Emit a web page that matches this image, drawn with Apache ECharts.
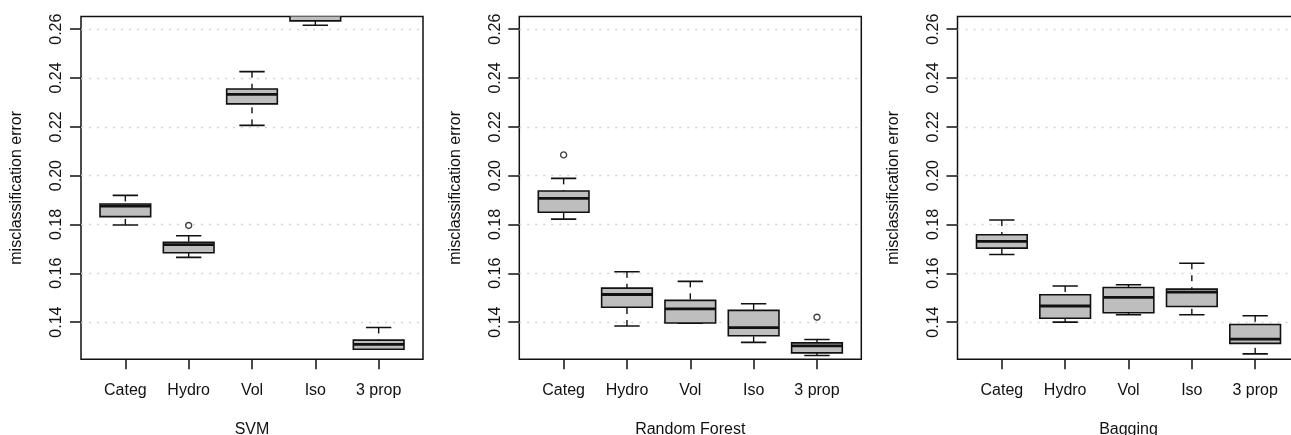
<!DOCTYPE html>
<html><head><meta charset="utf-8">
<script src="https://cdn.jsdelivr.net/npm/echarts@6.0.0/dist/echarts.min.js"></script>
<style>html,body{margin:0;padding:0;background:#fff}#c{width:1291px;height:435px}</style>
</head><body><div id="c"></div>
<script>
// ---- data ----
const categories = ['Categ', 'Hydro', 'Vol', 'Iso', '3 prop'];
const panelTitles = ['SVM', 'Random Forest', 'Bagging'];
const yTicks = [0.14, 0.16, 0.18, 0.20, 0.22, 0.24, 0.26];
const yLimits = [0.13, 0.26];
// [lower whisker, Q1, median, Q3, upper whisker]
const svmStats = [
  [0.1798, 0.1832, 0.1875, 0.1884, 0.1919],
  [0.1665, 0.1684, 0.1717, 0.1727, 0.1754],
  [0.2206, 0.2294, 0.2333, 0.2355, 0.2426],
  [0.2616, 0.2634, 0.2660, 0.2680, 0.2710],
  [0.1289, 0.1289, 0.1309, 0.1326, 0.1378]
];
const rfStats = [
  [0.1822, 0.1850, 0.1907, 0.1937, 0.1989],
  [0.1384, 0.1461, 0.1513, 0.1539, 0.1606],
  [0.1395, 0.1396, 0.1454, 0.1489, 0.1567],
  [0.1317, 0.1344, 0.1377, 0.1448, 0.1475],
  [0.1263, 0.1274, 0.1303, 0.1315, 0.1329]
];
const bagStats = [
  [0.1677, 0.1703, 0.1731, 0.1758, 0.1818],
  [0.1400, 0.1416, 0.1466, 0.1512, 0.1548],
  [0.1430, 0.1438, 0.1501, 0.1542, 0.1553],
  [0.1430, 0.1464, 0.1523, 0.1535, 0.1641],
  [0.1270, 0.1313, 0.1330, 0.1390, 0.1426]
];
// [category index, value]
const svmOutliers = [[1, 0.1796]];
const rfOutliers = [[0, 0.2085], [4, 0.1420]];
const bagOutliers = [];

// ---- layout ----
const FONT = '"Liberation Sans", Arial, Helvetica, sans-serif';
const FS = 16;
const frameLefts = [81, 519.3, 957.5];
const FRAME_W = 342, TOP = 16.5, H = 342.7;
const STEP = FRAME_W / 5.4;          // R boxplot xlim 0.5..n+0.5 extended 4%
const ext = (yLimits[1] - yLimits[0]) * 0.04;
const Y_MIN = +(yLimits[0] - ext).toFixed(5), Y_MAX = +(yLimits[1] + ext).toFixed(5);
const X_MIN = 0.5 - 0.04 * categories.length, X_MAX = categories.length + 0.5 + 0.04 * categories.length;

const allStats = [svmStats, rfStats, bagStats];
const allOut = [svmOutliers, rfOutliers, bagOutliers];

const grids = [], xAxes = [], yAxes = [], series = [];
for (let p = 0; p < 3; p++) {
  const fl = frameLefts[p];
  // frame grid (holds the data, R-style x range)
  grids.push({left: fl, top: TOP, width: FRAME_W, height: H, show: true,
    borderColor: '#111', borderWidth: 1.5, backgroundColor: 'transparent',
    containLabel: false, outerBoundsMode: 'none'});
  // label grid (category ticks / labels)
  grids.push({left: fl + 0.2 * STEP, top: TOP, width: 5 * STEP, height: H, show: false,
    containLabel: false, outerBoundsMode: 'none'});
  xAxes.push({gridIndex: 2 * p, type: 'value', min: X_MIN, max: X_MAX, show: false});
  xAxes.push({gridIndex: 2 * p + 1, type: 'category', data: categories,
    axisLine: {show: false, onZero: false},
    axisTick: {show: true, alignWithLabel: true, length: 10, lineStyle: {color: '#111', width: 1.5}},
    axisLabel: {margin: 23, fontSize: FS, fontFamily: FONT, color: '#111'},
    splitLine: {show: false},
    name: panelTitles[p], nameLocation: 'middle', nameGap: 62,
    nameTextStyle: {fontSize: FS, fontFamily: FONT, color: '#111'}
  });
  yAxes.push({gridIndex: 2 * p, type: 'value', min: Y_MIN, max: Y_MAX,
    splitNumber: 7, minInterval: 0.02, maxInterval: 0.02,
    axisLine: {show: false},
    axisTick: {show: true, length: 11, customValues: yTicks, lineStyle: {color: '#111', width: 1.5}},
    axisLabel: {rotate: 90, margin: 16, fontSize: FS, fontFamily: FONT, color: '#111',
      customValues: yTicks, formatter: v => v.toFixed(2)},
    splitLine: {show: true, lineStyle: {color: '#d2d2d2', width: 1.3, type: [2, 6]}},
    name: 'misclassification error', nameLocation: 'middle', nameGap: 56,
    nameTextStyle: {fontSize: FS, fontFamily: FONT, color: '#111'}
  });
  yAxes.push({gridIndex: 2 * p + 1, type: 'value', min: Y_MIN, max: Y_MAX, show: false});

  series.push({
    type: 'custom', xAxisIndex: 2 * p, yAxisIndex: 2 * p, clip: true,
    data: allStats[p].map((s, i) => [i + 1].concat(s)),
    encode: {x: 0, y: [1, 2, 3, 4, 5]},
    renderItem: function (params, api) {
      const i = api.value(0);
      const band = api.size([1, 0])[0];
      const hw = band * 0.4, sw = band * 0.2;
      const pLo = api.coord([i, api.value(1)]);
      const pQ1 = api.coord([i, api.value(2)]);
      const pMd = api.coord([i, api.value(3)]);
      const pQ3 = api.coord([i, api.value(4)]);
      const pHi = api.coord([i, api.value(5)]);
      const cx = pMd[0];
      const ln = '#111';
      return {type: 'group', children: [
        {type: 'line', shape: {x1: cx, y1: pLo[1], x2: cx, y2: pQ1[1]},
          style: {stroke: ln, lineWidth: 1.4, lineDash: [6, 6]}},
        {type: 'line', shape: {x1: cx, y1: pHi[1], x2: cx, y2: pQ3[1]},
          style: {stroke: ln, lineWidth: 1.4, lineDash: [6, 6]}},
        {type: 'line', shape: {x1: cx - sw, y1: pLo[1], x2: cx + sw, y2: pLo[1]},
          style: {stroke: ln, lineWidth: 1.6}},
        {type: 'line', shape: {x1: cx - sw, y1: pHi[1], x2: cx + sw, y2: pHi[1]},
          style: {stroke: ln, lineWidth: 1.6}},
        {type: 'rect', shape: {x: cx - hw, y: pQ3[1], width: 2 * hw, height: pQ1[1] - pQ3[1]},
          style: {fill: '#bebebe', stroke: ln, lineWidth: 1.6}},
        {type: 'line', shape: {x1: cx - hw, y1: pMd[1], x2: cx + hw, y2: pMd[1]},
          style: {stroke: ln, lineWidth: 2.8}}
      ]};
    }
  });
  series.push({
    type: 'scatter', xAxisIndex: 2 * p, yAxisIndex: 2 * p,
    data: allOut[p].map(o => [o[0] + 1, o[1]]), symbol: 'circle', symbolSize: 6,
    itemStyle: {color: 'rgba(0,0,0,0)', borderColor: '#111', borderWidth: 1.4},
    silent: true
  });
}

const chart = echarts.init(document.getElementById('c'), null, {renderer: 'canvas'});
chart.setOption({
  animation: false,
  backgroundColor: '#ffffff',
  grid: grids, xAxis: xAxes, yAxis: yAxes, series: series
});
</script>
</body></html>
